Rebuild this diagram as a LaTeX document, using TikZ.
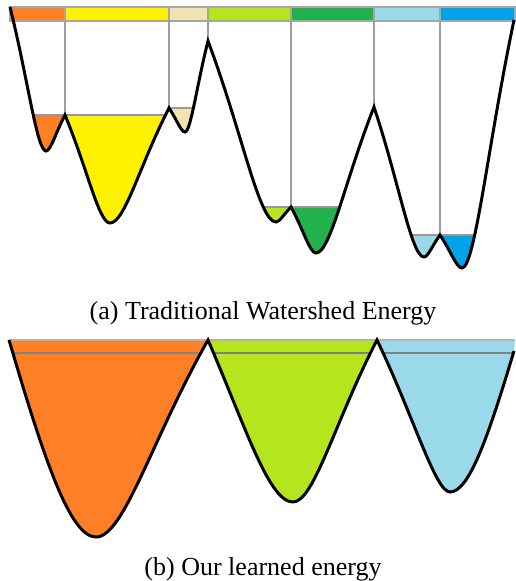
\documentclass[tikz,border=0pt]{standalone}
\usepackage{fontspec}
\setmainfont{Liberation Serif}

\definecolor{wsorange}{HTML}{FF7F27}
\definecolor{wsyellow}{HTML}{FFF200}
\definecolor{wsbeige}{HTML}{EFE4B0}
\definecolor{wslime}{HTML}{B5E61D}
\definecolor{wsgreen}{HTML}{22B14C}
\definecolor{wslblue}{HTML}{99D9EA}
\definecolor{wsblue}{HTML}{00A2E8}

\tikzset{
  energy/.style={draw=black,line width=1.7pt},
  gridline/.style={draw=black!38,line width=.6pt},
  levelline/.style={draw=black!40,line width=.6pt},
  barcell/.style={draw=black!35,line width=.6pt},
  caption/.style={font=\fontsize{14.8}{18}\selectfont,anchor=base,inner sep=0pt},
}

% traditional watershed energy
\newcommand{\wscurve}{(ws0) .. controls (28,79.5) and (37,151) .. (wsm1)
  .. controls (50.75,151) and (55.5,133) .. (ws1)
  .. controls (87.5,169) and (98.75,223) .. (wsm2)
  .. controls (124.75,223) and (139.5,165.5) .. (ws2)
  .. controls (177,120) and (181,132) .. (wsm3)
  .. controls (190.75,132) and (196.5,86.5) .. (ws3)
  .. controls (242,131.5) and (259,222) .. (wsm4)
  .. controls (279.75,222) and (283.5,214.5) .. (ws4)
  .. controls (303.5,230) and (309.75,253) .. (wsm5)
  .. controls (330.5,253) and (345,180) .. (ws5)
  .. controls (399,182) and (411.5,257) .. (wsm6)
  .. controls (428,257) and (432,246) .. (ws6)
  .. controls (451,251.5) and (456.5,268) .. (wsm7)
  .. controls (475,268) and (488,144) .. (ws7)}
% learned energy
\newcommand{\lecurve}{(le0) .. controls (43.8,458.2) and (69.9,537) .. (lem1)
  .. controls (124,537) and (152,438.5) .. (le1)
  .. controls (246.3,429.1) and (269.2,502) .. (lem2)
  .. controls (314,502) and (335,421) .. (le2)
  .. controls (413.5,416) and (435.4,492) .. (lem3)
  .. controls (469.2,492) and (488.4,436) .. (le3)}

\begin{document}
\begin{tikzpicture}[x=0.02cm,y=-0.02cm]
  \useasboundingbox (0,0) rectangle (515,581);
  % (a) peaks and minima
  \coordinate (ws0) at (10,7);
  \coordinate (wsm1) at (46,151);
  \coordinate (ws1) at (65,115);
  \coordinate (wsm2) at (110,223);
  \coordinate (ws2) at (169,108);
  \coordinate (wsm3) at (185,132);
  \coordinate (ws3) at (208,41);
  \coordinate (wsm4) at (276,222);
  \coordinate (ws4) at (291,207);
  \coordinate (wsm5) at (316,253);
  \coordinate (ws5) at (374,107);
  \coordinate (wsm6) at (424,257);
  \coordinate (ws6) at (440,235);
  \coordinate (wsm7) at (462,268);
  \coordinate (ws7) at (514,20);
  % water in each basin
  \foreach \xl/\xr/\lev/\col in {10/65/115/wsorange,65/169/115/wsyellow,169/208/108/wsbeige,
      208/291/207/wslime,291/374/207/wsgreen,374/440/235/wslblue,440/515/235/wsblue}{
    \begin{scope}
      \clip (\xl,\lev) rectangle (\xr,290);
      \fill[\col] \wscurve -- cycle;
    \end{scope}
  }
  \begin{scope}
    \clip \wscurve -- cycle;
    \foreach \xl/\xr/\lev in {10/169/115,169/208/108,208/374/207,374/515/235}
      \draw[levelline] (\xl,\lev) -- (\xr,\lev);
  \end{scope}
  % label bar
  \foreach \xa/\xb/\col [count=\i] in {10/65/wsorange,65/169/wsyellow,169/208/wsbeige,
      208/291/wslime,291/374/wsgreen,374/440/wslblue,440/515/wsblue}{
    \draw[barcell,fill=\col] (\xa,7) rectangle (\xb,21);
    \coordinate (bar\i) at (\xa,21);
  }
  \draw[gridline] (bar2) -- (ws1);
  \draw[gridline] (bar3) -- (ws2);
  \draw[gridline] (bar4) -- (ws3);
  \draw[gridline] (bar5) -- (ws4);
  \draw[gridline] (bar6) -- (ws5);
  \draw[gridline] (bar7) -- (ws6);
  \draw[energy] \wscurve;
  \node[caption] (capa) at (263,319) {(a) Traditional Watershed Energy};

  % (b) peaks and minima
  \coordinate (le0) at (9,340);
  \coordinate (lem1) at (96,537);
  \coordinate (le1) at (208,340);
  \coordinate (lem2) at (293,502);
  \coordinate (le2) at (377,340);
  \coordinate (lem3) at (450,492);
  \coordinate (le3) at (514,351);
  \coordinate (leend) at (515,340);
  \foreach \xl/\xr/\col in {9/208/wsorange,208/377/wslime,377/515/wslblue}{
    \begin{scope}
      \clip (\xl,340) rectangle (\xr,560);
      \fill[\col] \lecurve -- (leend) -- cycle;
    \end{scope}
  }
  \begin{scope}
    \clip \lecurve -- (leend) -- cycle;
    \draw[levelline,draw=black!50] (9,353) -- (515,353);
  \end{scope}
  \draw[gridline,draw=black!30] (le0) -- (leend);
  \draw[energy] \lecurve;
  \node[caption] (capb) at (263,575) {(b) Our learned energy};
\end{tikzpicture}
\end{document}
